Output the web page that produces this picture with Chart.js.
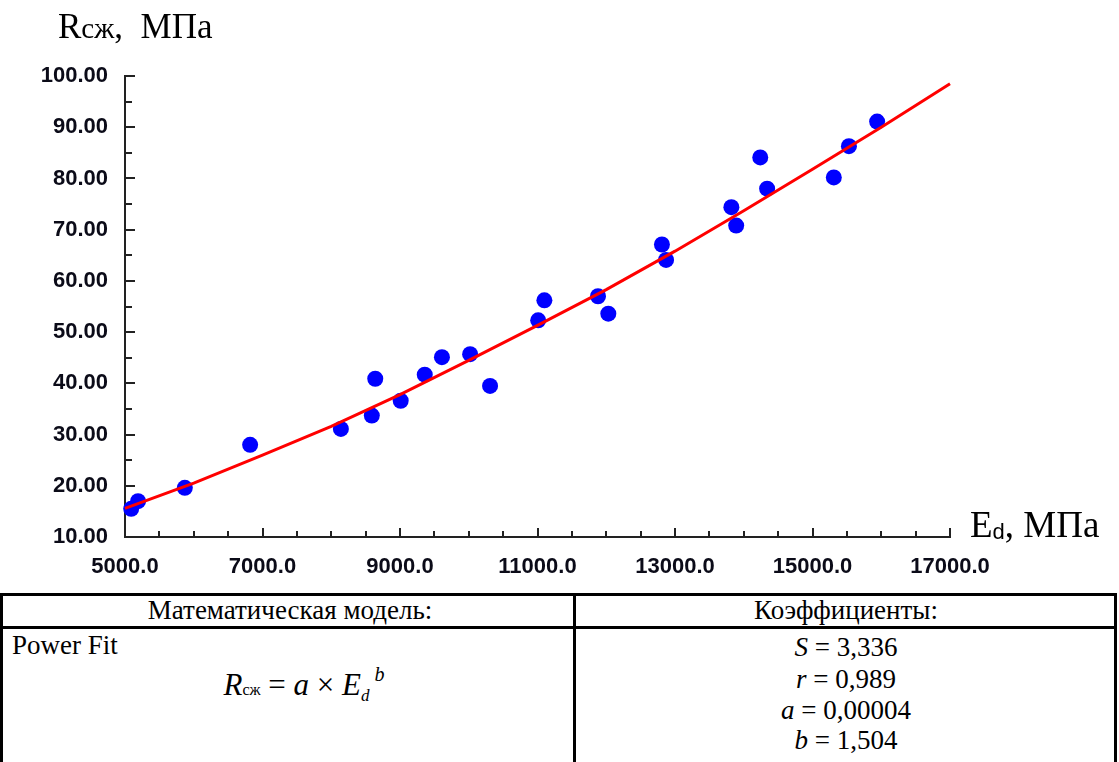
<!DOCTYPE html>
<html>
<head>
<meta charset="utf-8">
<script src="https://cdn.jsdelivr.net/npm/chart.js@4"></script>
<style>
body { margin: 0; background: #fff; width: 1119px; height: 762px; overflow: hidden; position: relative;
  font-family: "Liberation Serif", "Times New Roman", serif; color: #000; }
#wrap { position: absolute; left: 0; top: 0; width: 1119px; height: 590px; }
.t { position: absolute; white-space: nowrap; line-height: 1; }
.c { transform: translateX(-50%); }
i { font-style: italic; }
#tbl { position: absolute; left: 0; top: 593px; width: 1111px; height: 200px;
  border: 3px solid #000; border-bottom: none; }
#hsep { position: absolute; left: 0; top: 626px; width: 1117px; height: 3px; background: #000; }
#vsep { position: absolute; left: 573px; top: 593px; width: 3px; height: 200px; background: #000; }
</style>
</head>
<body>
<div id="wrap"><canvas id="chart" width="1119" height="590"></canvas></div>

<div class="t" style="left:58px; top:9px; font-size:35px;">R<span style="font-size:29px;">сж</span>,&nbsp; МПа</div>
<div class="t" style="left:970px; top:506px; font-size:37px;">E<span style="font-family:'Liberation Sans',Arial,sans-serif; font-size:22px; vertical-align:-2px;">d</span>, МПа</div>

<div id="tbl"></div>
<div id="hsep"></div>
<div id="vsep"></div>

<div class="t c" style="left:290px; top:597px; font-size:27px;">Математическая модель:</div>
<div class="t c" style="left:846px; top:597px; font-size:27px;">Коэффициенты:</div>
<div class="t" style="left:12px; top:632px; font-size:27px;">Power Fit</div>
<div class="t c" style="left:304px; top:664px; font-size:31px;"><i>R</i><span style="font-size:16px;">сж</span> = <i>a</i> × <i>E</i><i style="font-size:17px; vertical-align:-6px;">d</i><i style="font-size:20px; vertical-align:14px;">&nbsp;b</i></div>
<div class="t c" style="left:846px; top:634px; font-size:27px;"><i>S</i> = 3,336</div>
<div class="t c" style="left:846px; top:666px; font-size:27px;"><i>r</i> = 0,989</div>
<div class="t c" style="left:846px; top:697px; font-size:27px;"><i>a</i> = 0,00004</div>
<div class="t c" style="left:846px; top:727px; font-size:27px;"><i>b</i> = 1,504</div>

<script>
// measured points: Ed (MPa) and Rсж (MPa)
const modulusE = [5090, 5190, 5870, 6820, 8140, 8590, 8640, 9010, 9360, 9610, 10020, 10310,
  11010, 11100, 11880, 12030, 12810, 12870, 13820, 13890, 14240, 14340, 15310, 15530, 15940];
const strengthR = [15.5, 17.0, 19.6, 28.0, 31.1, 33.7, 40.9, 36.6, 41.7, 45.1, 45.7, 39.5,
  52.3, 56.2, 57.0, 53.6, 67.1, 64.1, 74.4, 70.8, 84.1, 78.0, 80.2, 86.3, 91.1];

// power fit curve
const fitE = [5000, 6000, 7000, 8000, 9000, 10000, 11000, 12000, 13000, 14000, 15000, 16000, 17000];
const fitR = [15.6, 20.5, 26.0, 31.6, 37.8, 44.5, 51.3, 58.3, 65.8, 73.7, 81.8, 90.0, 98.5];

const xTicks = [5000, 7000, 9000, 11000, 13000, 15000, 17000];
const yTicks = [10, 20, 30, 40, 50, 60, 70, 80, 90, 100];

const xMinor = 500;
const yMinor = 5;
const axisColor = "#222";

// ticks pointing into the plot, like the original
const innerTicks = {
  id: "innerTicks",
  beforeDatasetsDraw(chart) {
    const { ctx, chartArea, scales } = chart;
    const x = scales.x, y = scales.y;
    ctx.save();
    ctx.strokeStyle = axisColor;
    ctx.lineWidth = 2;
    ctx.beginPath();
    for (let v = x.min; v <= x.max; v += xMinor) {
      let px = Math.round(x.getPixelForValue(v));
      let len = xTicks.includes(v) ? 9 : 6;
      ctx.moveTo(px, chartArea.bottom);
      ctx.lineTo(px, chartArea.bottom - len);
    }
    for (let v = y.min; v <= y.max; v += yMinor) {
      let py = Math.round(y.getPixelForValue(v));
      let len = yTicks.includes(v) ? 10 : 7;
      ctx.moveTo(chartArea.left, py);
      ctx.lineTo(chartArea.left + len, py);
    }
    ctx.stroke();
    ctx.restore();
  }
};

let ctx = document.getElementById("chart").getContext("2d");
const tickFont = { family: "'Liberation Sans', Arial, sans-serif", size: 22, weight: "bold" };

const chart = new Chart(ctx, {
  type: "scatter",
  data: {
    datasets: [
      {
        type: "line",
        data: fitE.map((e, i) => ({ x: e, y: fitR[i] })),
        borderColor: "#ff0000",
        borderWidth: 3,
        pointRadius: 0,
        tension: 0,
        fill: false,
        clip: false,
        order: 0
      },
      {
        data: modulusE.map((e, i) => ({ x: e, y: strengthR[i] })),
        backgroundColor: "#0000ff",
        borderWidth: 0,
        pointRadius: 8,
        pointHoverRadius: 8,
        clip: false,
        order: 1
      }
    ]
  },
  options: {
    responsive: false,
    animation: false,
    events: [],
    layout: { padding: { left: 0, top: 76, right: 169, bottom: 0 } },
    plugins: { legend: { display: false }, tooltip: { enabled: false } },
    scales: {
      x: {
        type: "linear",
        min: 5000,
        max: 17000,
        grid: { display: false, drawTicks: false },
        border: { display: true, color: axisColor, width: 2 },
        afterBuildTicks: s => { s.ticks = xTicks.map(v => ({ value: v })); },
        afterFit: s => { s.height = 53; },
        ticks: { font: tickFont, color: "#0b0b18", padding: 17, maxRotation: 0,
          callback: v => Number(v).toFixed(1) }
      },
      y: {
        type: "linear",
        min: 10,
        max: 100,
        grid: { display: false, drawTicks: false },
        border: { display: true, color: axisColor, width: 2 },
        afterBuildTicks: s => { s.ticks = yTicks.map(v => ({ value: v })); },
        afterFit: s => { s.width = 125; },
        ticks: { font: tickFont, color: "#0b0b18", padding: 17,
          callback: v => Number(v).toFixed(2) }
      }
    }
  },
  plugins: [innerTicks]
});
</script>
</body>
</html>
